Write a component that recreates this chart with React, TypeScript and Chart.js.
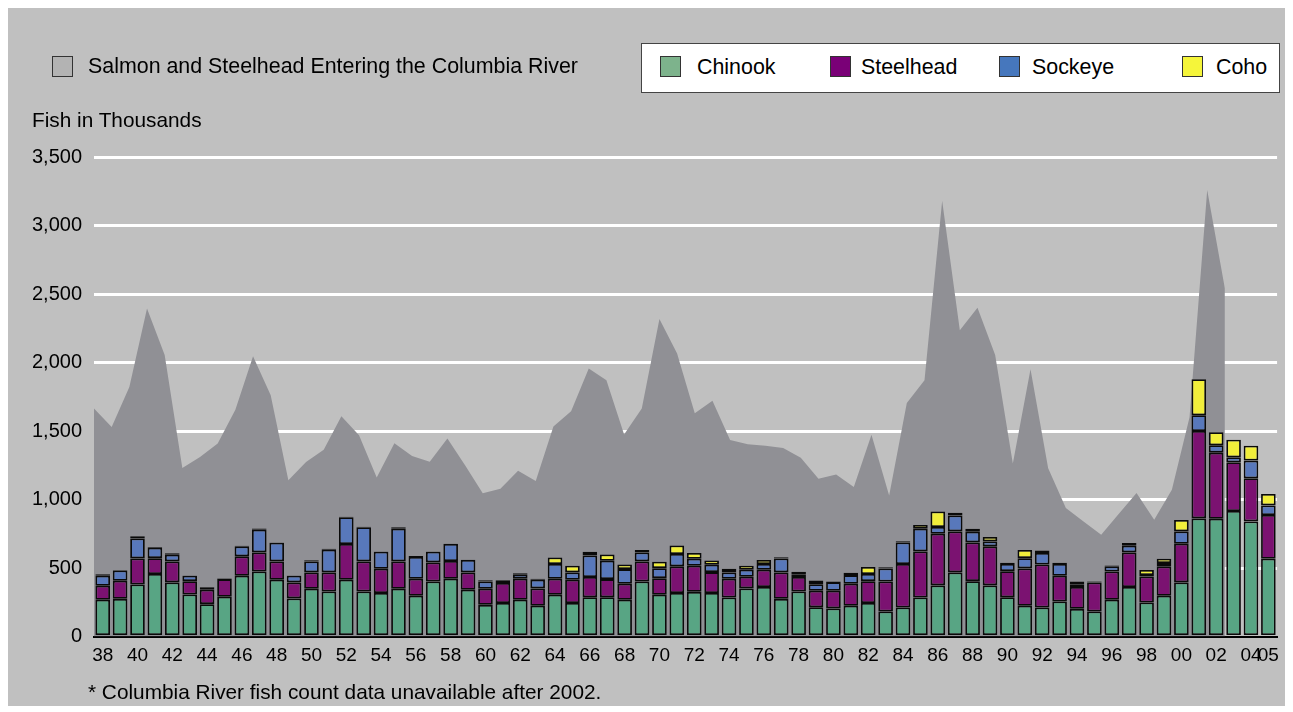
import React, { useEffect, useRef } from "react";
import { Chart, registerables } from "chart.js";

Chart.register(...registerables);

const years: string[] = [
  "38","39","40","41","42","43","44","45","46","47","48","49",
  "50","51","52","53","54","55","56","57","58","59",
  "60","61","62","63","64","65","66","67","68","69",
  "70","71","72","73","74","75","76","77","78","79",
  "80","81","82","83","84","85","86","87","88","89",
  "90","91","92","93","94","95","96","97","98","99",
  "00","01","02","03","04","05",
];

const chinook: number[] = [
  268, 275, 380, 456, 395, 307, 236, 290, 443, 475, 414, 278,
  348, 329, 414, 329, 317, 348, 297, 402, 421, 341,
  231, 244, 268, 224, 305, 244, 287, 287, 268, 402,
  305, 317, 326, 317, 285, 351, 361, 275, 329, 214,
  205, 224, 244, 183, 212, 285, 373, 468, 404, 373,
  287, 224, 212, 256, 202, 183, 268, 361, 248, 297,
  395, 862, 860, 916, 840, 568,
];

const steelhead: number[] = [
  102, 132, 190, 116, 153, 97, 105, 129, 142, 139, 134, 117,
  120, 139, 261, 219, 177, 200, 124, 139, 130, 127,
  117, 146, 153, 127, 116, 170, 147, 132, 117, 146,
  121, 195, 190, 153, 136, 85, 126, 193, 105, 120,
  129, 161, 160, 219, 317, 336, 377, 299, 283, 285,
  190, 273, 314, 187, 159, 212, 207, 253, 190, 215,
  282, 638, 482, 356, 315, 319,
];

const sockeye: number[] = [
  73, 75, 146, 76, 49, 39, 15, 5, 73, 166, 137, 48,
  80, 165, 195, 249, 125, 239, 159, 78, 124, 90,
  54, 15, 30, 63, 108, 54, 158, 134, 107, 66,
  73, 90, 52, 54, 47, 51, 42, 102, 20, 48,
  63, 63, 52, 95, 158, 166, 49, 117, 78, 36,
  52, 75, 83, 86, 21, 5, 37, 49, 10, 24,
  90, 115, 54, 36, 129, 70,
];

const coho: number[] = [
  12, 3, 15, 5, 10, 3, 5, 2, 5, 8, 2, 2,
  8, 8, 5, 5, 2, 10, 8, 2, 2, 2,
  8, 5, 10, 8, 48, 48, 27, 46, 34, 17,
  47, 63, 41, 31, 26, 29, 29, 8, 18, 27,
  5, 17, 51, 8, 8, 27, 114, 20, 22, 32,
  9, 59, 19, 9, 20, 4, 7, 19, 37, 32,
  83, 263, 95, 129, 109, 83,
];

// Salmon and Steelhead entering the Columbia River, 1938-2002
const enteringRiver: number[] = [
  1664, 1530, 1822, 2395, 2054, 1230, 1311, 1408, 1656, 2046, 1761, 1140,
  1274, 1364, 1608, 1469, 1160, 1410, 1318, 1276, 1445, 1250,
  1045, 1079, 1210, 1135, 1532, 1644, 1956, 1871, 1474, 1664,
  2317, 2066, 1630, 1720, 1434, 1403, 1393, 1376, 1305, 1152,
  1183, 1091, 1472, 1030, 1705, 1871, 3181, 2236, 2400, 2054,
  1262, 1951, 1228, 938, 840, 743, 896, 1047, 853, 1072,
  1600, 3259, 2541,
];

const yTicks: number[] = [0, 500, 1000, 1500, 2000, 2500, 3000, 3500];

const FONT = "'Liberation Sans', Arial, Helvetica, sans-serif";

const colors = {
  chinook: "#58a584",
  steelhead: "#7b1271",
  sockeye: "#5878bb",
  coho: "#f1ee3b",
  area: "#909095",
  panel: "#c0c0c0",
};

const legendItems = [
  { label: "Chinook", color: "#7db38c", left: 18, textLeft: 55 },
  { label: "Steelhead", color: "#7a0077", left: 188, textLeft: 219 },
  { label: "Sockeye", color: "#4677bd", left: 357, textLeft: 390 },
  { label: "Coho", color: "#f5f53a", left: 540, textLeft: 574 },
];

export default function App() {
  const canvasRef = useRef<HTMLCanvasElement | null>(null);

  useEffect(() => {
    const canvas = canvasRef.current;
    if (!canvas) return;
    const barCommon = {
      type: "bar" as const,
      borderColor: "#0a0a0a",
      borderWidth: 1.8,
      borderSkipped: false as const,
      barPercentage: 0.84,
      categoryPercentage: 1.0,
      grouped: false,
      order: 1,
      xAxisID: "x",
      yAxisID: "y",
    };
    const areaSpan = (enteringRiver.length - 1) * years.length / enteringRiver.length;
    const chart = new Chart(canvas, {
      data: {
        labels: years,
        datasets: [
          {
            type: "line",
            label: "Salmon and Steelhead Entering the Columbia River",
            data: enteringRiver.map((v, i) => ({ x: i, y: v })),
            xAxisID: "x2",
            yAxisID: "y",
            stack: "area",
            fill: "origin",
            backgroundColor: colors.area,
            borderWidth: 0,
            borderColor: colors.area,
            pointRadius: 0,
            tension: 0,
            order: 5,
          } as any,
          { ...barCommon, label: "Chinook", data: chinook, backgroundColor: colors.chinook },
          { ...barCommon, label: "Steelhead", data: steelhead, backgroundColor: colors.steelhead },
          { ...barCommon, label: "Sockeye", data: sockeye, backgroundColor: colors.sockeye },
          { ...barCommon, label: "Coho", data: coho, backgroundColor: colors.coho },
        ],
      },
      options: {
        animation: false,
        responsive: false,
        maintainAspectRatio: false,
        devicePixelRatio: 1,
        layout: { padding: { top: 150, left: 0, right: 8, bottom: 39.5 } },
        plugins: {
          legend: { display: false },
          tooltip: { enabled: false },
          title: { display: false },
        },
        scales: {
          x: {
            type: "category",
            stacked: true,
            offset: true,
            grid: { display: false, drawTicks: false },
            border: { display: true, color: "#000000", width: 2 },
            afterFit: (scale: any) => {
              scale.height = 30;
            },
            ticks: {
              autoSkip: false,
              maxRotation: 0,
              minRotation: 0,
              padding: 8,
              color: "#000000",
              font: { family: FONT, size: 19 },
              callback: (_v: any, idx: number) =>
                idx % 2 === 0 || idx === years.length - 1 ? years[idx] : "",
            },
          },
          x2: {
            type: "linear",
            display: false,
            min: 0,
            max: areaSpan,
            offset: false,
          },
          y: {
            type: "linear",
            stacked: true,
            min: yTicks[0],
            max: yTicks[yTicks.length - 1],
            afterFit: (scale: any) => {
              scale.width = 87;
            },
            afterBuildTicks: (scale: any) => {
              scale.ticks = yTicks.map((v) => ({ value: v }));
            },
            border: { display: false },
            grid: {
              drawTicks: false,
              lineWidth: 3,
              color: (ctx: any) =>
                ctx.tick && ctx.tick.value === 0 ? "rgba(0,0,0,0)" : "#ffffff",
            },
            ticks: {
              padding: 12,
              color: "#000000",
              font: { family: FONT, size: 20 },
              callback: (v: any) => Number(v).toLocaleString("en-US"),
            },
          },
        },
      } as any,
    });
    return () => chart.destroy();
  }, []);

  const textStyle: React.CSSProperties = {
    position: "absolute",
    fontFamily: FONT,
    fontSize: "20.8px",
    lineHeight: "24px",
    color: "#000",
    whiteSpace: "nowrap",
  };
  const legendText: React.CSSProperties = { ...textStyle, fontSize: "21.4px" };

  return (
    <div
      style={{
        position: "relative",
        width: 1280,
        height: 699,
        margin: "-1px 0 0 -1px",
        background: colors.panel,
        overflow: "hidden",
      }}
    >
      <canvas
        ref={canvasRef}
        width={1280}
        height={699}
        style={{ position: "absolute", left: 0, top: 0, width: 1280, height: 699 }}
      />
      {/* area legend */}
      <div
        style={{
          position: "absolute",
          left: 45,
          top: 49,
          width: 19,
          height: 19,
          background: "#b3b3b3",
          border: "1px solid #333",
        }}
      />
      <div style={{ ...legendText, left: 81, top: 47 }}>
        Salmon and Steelhead Entering the Columbia River
      </div>
      {/* species legend */}
      <div
        style={{
          position: "absolute",
          left: 634,
          top: 36,
          width: 637,
          height: 48,
          background: "#ffffff",
          border: "1px solid #444",
        }}
      >
        {legendItems.map((it) => (
          <React.Fragment key={it.label}>
            <div
              style={{
                position: "absolute",
                left: it.left,
                top: 12,
                width: 19,
                height: 19,
                background: it.color,
                border: "1px solid #333",
              }}
            />
            <div style={{ ...legendText, left: it.textLeft, top: 11 }}>{it.label}</div>
          </React.Fragment>
        ))}
      </div>
      <div style={{ ...textStyle, left: 25, top: 101 }}>Fish in Thousands</div>
      <div style={{ ...textStyle, left: 81, top: 673 }}>
        * Columbia River fish count data unavailable after 2002.
      </div>
    </div>
  );
}
